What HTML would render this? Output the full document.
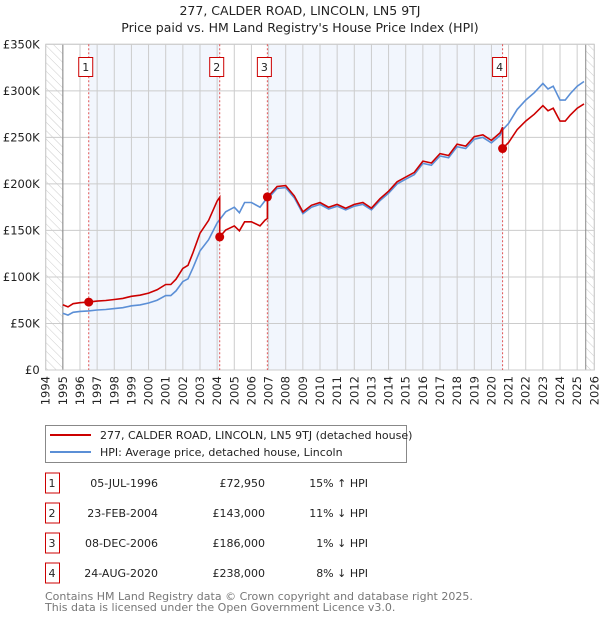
<!DOCTYPE html>
<html><head><meta charset="utf-8"><style>
body{margin:0;background:#fff;width:600px;height:620px;overflow:hidden;font-family:"DejaVu Sans","Liberation Sans",sans-serif}
svg text{font-family:"DejaVu Sans","Liberation Sans",sans-serif}
</style></head><body>
<svg id="c" width="600" height="620" xmlns="http://www.w3.org/2000/svg">
<defs><pattern id="hatch" width="6" height="6" patternUnits="userSpaceOnUse" patternTransform="rotate(-45)"><line x1="0" y1="0" x2="0" y2="6" stroke="#ccc" stroke-width="1"/></pattern></defs>
<text x="300" y="15" text-anchor="middle" font-size="12.5" fill="#222">277, CALDER ROAD, LINCOLN, LN5 9TJ</text>
<text x="300" y="32" text-anchor="middle" font-size="12.5" fill="#222">Price paid vs. HM Land Registry's House Price Index (HPI)</text>
<g id="plot"></g>
<g>
<rect x="45.5" y="425.5" width="361" height="37" fill="#fff" stroke="#888"/>
<line x1="50" y1="435" x2="91" y2="435" stroke="#cc0000" stroke-width="2"/>
<text x="100" y="439" font-size="11" fill="#222">277, CALDER ROAD, LINCOLN, LN5 9TJ (detached house)</text>
<line x1="50" y1="452" x2="91" y2="452" stroke="#5b8fd6" stroke-width="2"/>
<text x="100" y="456" font-size="11" fill="#222">HPI: Average price, detached house, Lincoln</text>
</g>
<g id="tbl" font-size="11" fill="#222"></g>
<text x="45" y="600" font-size="11" fill="#777">Contains HM Land Registry data © Crown copyright and database right 2025.</text>
<text x="45" y="611" font-size="11" fill="#777">This data is licensed under the Open Government Licence v3.0.</text>
</svg>
<script>
const hpiYears=[1995,1995.3,1995.6,1996,1996.5,1997,1997.5,1998,1998.5,1999,1999.5,2000,2000.5,2001,2001.3,2001.6,2002,2002.3,2002.6,2003,2003.5,2004,2004.5,2005,2005.3,2005.6,2006,2006.5,2006.8,2007,2007.5,2008,2008.5,2009,2009.5,2010,2010.5,2011,2011.5,2012,2012.5,2013,2013.5,2014,2014.5,2015,2015.5,2016,2016.5,2017,2017.5,2018,2018.5,2019,2019.5,2020,2020.5,2020.65,2021,2021.5,2022,2022.5,2023,2023.3,2023.6,2024,2024.3,2024.6,2025,2025.4];
const hpiValues=[61,59,62,63,63.5,64.5,65,66,67,69,70,72,75,80,80,85,95,98,110,128,140,158,170,175,169,180,180,175,182,185,195,196,185,168,175,178,173,176,172,176,178,172,182,190,200,205,210,222,220,230,228,240,238,248,250,244,252,258,265,280,290,298,308,302,305,290,290,297,305,310];
const saleYears=[1996.51,2004.15,2006.93,2020.65];
const salePrices=[72950,143000,186000,238000];
const saleDates=["05-JUL-1996","23-FEB-2004","08-DEC-2006","24-AUG-2020"];
const saleDiffs=["15% \u2191 HPI","11% \u2193 HPI","1% \u2193 HPI","8% \u2193 HPI"];
const yTicks=[0,50000,100000,150000,200000,250000,300000,350000];
const yTickLabels=["£0","£50K","£100K","£150K","£200K","£250K","£300K","£350K"];
const xTicks=[1994,1995,1996,1997,1998,1999,2000,2001,2002,2003,2004,2005,2006,2007,2008,2009,2010,2011,2012,2013,2014,2015,2016,2017,2018,2019,2020,2021,2022,2023,2024,2025,2026];

const NS="http://www.w3.org/2000/svg";
const X0=45.7,X1=594.3,Y0=370,Y1=44.3;
const x=t=>X0+(t-1994)/32*(X1-X0);
const y=v=>Y0-v/350000*(Y0-Y1);
const g=document.getElementById('plot');
function mk(tag,at,parent){const e=document.createElementNS(NS,tag);for(const k in at)e.setAttribute(k,at[k]);(parent||g).appendChild(e);return e;}
function hpiAt(t){if(t<=hpiYears[0])return hpiValues[0]*1000;for(let i=1;i<hpiYears.length;i++){if(t<=hpiYears[i]){const f=(t-hpiYears[i-1])/(hpiYears[i]-hpiYears[i-1]);return (hpiValues[i-1]+f*(hpiValues[i]-hpiValues[i-1]))*1000;}}return hpiValues[hpiValues.length-1]*1000;}
const bands=[[saleYears[0],saleYears[1]],[saleYears[2],saleYears[3]]];
bands.forEach((b,i)=>{const r=mk('rect',{x:x(b[0]),y:Y1,width:x(b[1])-x(b[0]),height:Y0-Y1,fill:'#eef3fc',opacity:0.75});

});
const h1=mk('rect',{x:X0,y:Y1,width:x(1995)-X0,height:Y0-Y1,fill:'url(#hatch)'});


const h2=mk('rect',{x:x(2025.5),y:Y1,width:X1-x(2025.5),height:Y0-Y1,fill:'url(#hatch)'});


yTicks.forEach((v,i)=>{const l=mk('line',{x1:X0,x2:X1,y1:y(v),y2:y(v),stroke:'#ccc'});


const t=mk('text',{x:X0-6,y:y(v)+4,'text-anchor':'end','font-size':11.5,fill:'#222'});t.textContent=yTickLabels[i];

});
xTicks.forEach(yr=>{const l=mk('line',{x1:x(yr),x2:x(yr),y1:Y1,y2:Y0,stroke:'#ccc'});


const t=mk('text',{x:0,y:0,'text-anchor':'end','font-size':11.5,fill:'#222',transform:`translate(${x(yr)+4},${Y0+6}) rotate(-90)`});t.textContent=yr;

});
[[x(1995),'#888'],[x(2025.5),'#888']].forEach(a=>mk('line',{x1:a[0],x2:a[0],y1:Y1,y2:Y0,stroke:a[1]}));
mk('rect',{x:X0,y:Y1,width:X1-X0,height:Y0-Y1,fill:'none',stroke:'#ccc'});
saleYears.forEach((s,i)=>{const l=mk('line',{x1:x(s),x2:x(s),y1:Y1,y2:Y0,stroke:'#e05555','stroke-dasharray':'2,2','stroke-width':1});


const r=mk('rect',{x:x(s)-10,y:57.5,width:14,height:19,fill:'#fff',stroke:'#cc0000'});


const t=mk('text',{x:x(s)-3,y:71,'text-anchor':'middle','font-size':11,fill:'#222'});t.textContent=i+1;

});
let d='';hpiYears.forEach((t,i)=>{d+=(i?'L':'M')+x(t).toFixed(1)+','+y(hpiValues[i]*1000).toFixed(1);});
const hp=mk('path',{d:d,fill:'none',stroke:'#5b8fd6','stroke-width':1.6});


function seg(t){let k=0;for(let i=0;i<saleYears.length;i++)if(t>=saleYears[i])k=i;return k;}
const pts=[];
const times=hpiYears.concat(saleYears).sort((a,b)=>a-b);
times.forEach(t=>{const k=seg(t);pts.push([t,salePrices[k]*hpiAt(t)/hpiAt(saleYears[k])]);});
let pd='';let prevK=seg(times[0]);
times.forEach((t,i)=>{const k=seg(t);if(i>0&&k!==prevK){const before=salePrices[prevK]*hpiAt(t)/hpiAt(saleYears[prevK]);pd+='L'+x(t).toFixed(1)+','+y(before).toFixed(1);}pd+=(i?'L':'M')+x(t).toFixed(1)+','+y(pts[i][1]).toFixed(1);prevK=k;});
const pp=mk('path',{d:pd,fill:'none',stroke:'#cc0000','stroke-width':1.6});


saleYears.forEach((s,i)=>{const c=mk('circle',{cx:x(s),cy:y(salePrices[i]),r:4.5,fill:'#cc0000'});

});
const tb=document.getElementById('tbl');
saleYears.forEach((s,i)=>{const cy=483+i*30;
const r=mk('rect',{x:45.5,y:cy-10,width:14,height:20,fill:'#fff',stroke:'#cc0000'},tb);


const cells=[[52,'middle',String(i+1),'table-index'],[158,'end',saleDates[i],'table-date'],[265,'end','£'+salePrices[i].toLocaleString('en-GB'),'table-price'],[368,'end',saleDiffs[i],'table-hpi-diff']];
cells.forEach(c=>{const t=mk('text',{x:c[0],y:cy+4,'text-anchor':c[1]},tb);t.textContent=c[2];

});});
</script>
</body></html>
